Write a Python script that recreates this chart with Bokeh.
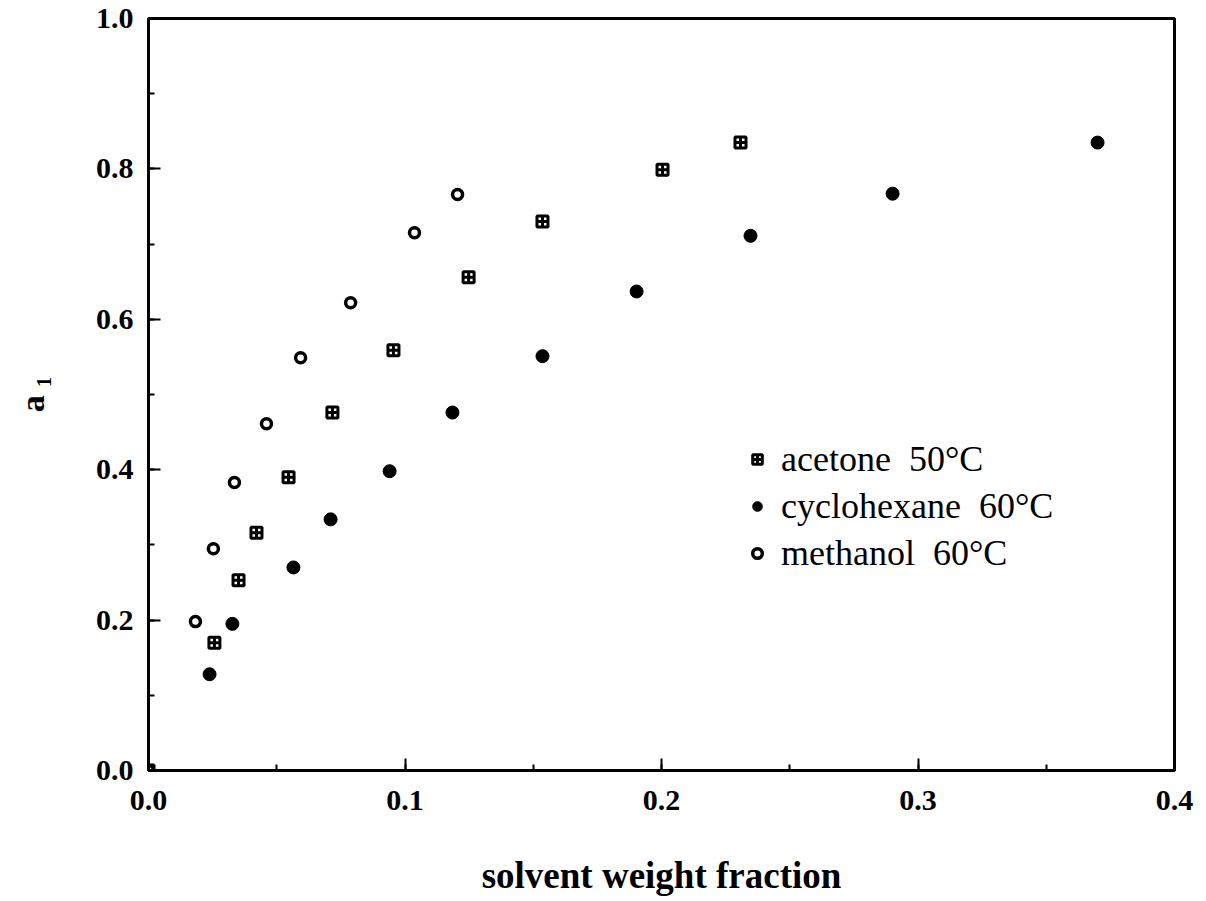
from bokeh.plotting import figure
from bokeh.models import SingleIntervalTicker, PrintfTickFormatter, Range1d
from bokeh.embed import file_html
from bokeh.resources import INLINE

# ---- data ----
acetone_x = [0.0, 0.0257, 0.0351, 0.0421, 0.0546, 0.0717, 0.0955, 0.1248, 0.1536, 0.2004, 0.2308]
acetone_y = [0.0, 0.170, 0.253, 0.316, 0.390, 0.476, 0.559, 0.656, 0.730, 0.799, 0.835]

cyclohexane_x = [0.0238, 0.0327, 0.0565, 0.0710, 0.0940, 0.1185, 0.1536, 0.1903, 0.2347, 0.2901, 0.3700]
cyclohexane_y = [0.128, 0.195, 0.270, 0.334, 0.398, 0.476, 0.551, 0.637, 0.711, 0.767, 0.835]

methanol_x = [0.0, 0.0183, 0.0253, 0.0335, 0.0460, 0.0593, 0.0788, 0.1037, 0.1205]
methanol_y = [0.0, 0.198, 0.295, 0.383, 0.461, 0.549, 0.622, 0.715, 0.766]

labels = ["acetone  50\u00b0C", "cyclohexane  60\u00b0C", "methanol  60\u00b0C"]
x_title = "solvent weight fraction"
y_title = "a \u2081"

SERIF = "Liberation Serif"

p = figure(width=1198, height=901, output_backend="svg", toolbar_location=None,
           x_range=Range1d(0, 0.4), y_range=Range1d(0, 1.0),
           min_border_left=148, min_border_right=24, min_border_top=18, min_border_bottom=131)

p.background_fill_color = "white"
p.border_fill_color = "white"
p.grid.visible = False
p.outline_line_color = "black"
p.outline_line_width = 3

p.scatter(acetone_x, acetone_y, marker="square_cross", size=11, fill_color="white",
          line_color="black", line_width=3, legend_label=labels[0])
p.scatter(cyclohexane_x, cyclohexane_y, marker="circle", size=13, fill_color="black",
          line_color="black", line_width=1, legend_label=labels[1])
p.scatter(methanol_x, methanol_y, marker="circle", size=10, fill_color="white",
          line_color="black", line_width=3.5, legend_label=labels[2])

p.xaxis.ticker = SingleIntervalTicker(interval=0.1, num_minor_ticks=2)
p.yaxis.ticker = SingleIntervalTicker(interval=0.2, num_minor_ticks=2)
p.xaxis.formatter = PrintfTickFormatter(format="%.1f")
p.yaxis.formatter = PrintfTickFormatter(format="%.1f")

for ax in (p.xaxis[0], p.yaxis[0]):
    ax.axis_line_color = "black"
    ax.axis_line_width = 3
    ax.major_tick_in = 12
    ax.major_tick_out = 0
    ax.minor_tick_in = 6
    ax.minor_tick_out = 0
    ax.major_tick_line_width = 2
    ax.minor_tick_line_width = 2
    ax.major_tick_line_color = "black"
    ax.minor_tick_line_color = "black"
    ax.major_label_text_font = SERIF
    ax.major_label_text_font_style = "bold"
    ax.major_label_text_font_size = "30px"
    ax.major_label_text_color = "black"
    ax.axis_label_text_font = SERIF
    ax.axis_label_text_font_style = "bold"
    ax.axis_label_text_color = "black"

p.xaxis.major_label_standoff = 20
p.yaxis.major_label_standoff = 15
p.xaxis.axis_label = x_title
p.xaxis.axis_label_text_font_size = "37px"
p.xaxis.axis_label_standoff = 42
p.yaxis.axis_label = y_title
p.yaxis.axis_label_text_font_size = "34px"
p.yaxis.axis_label_standoff = 42

lg = p.legend[0]
lg.location = (597, 196)
lg.border_line_color = None
lg.background_fill_alpha = 0
lg.padding = 0
lg.margin = 0
lg.spacing = 5
lg.glyph_width = 24
lg.glyph_height = 24
lg.label_standoff = 12
lg.label_text_font = SERIF
lg.label_text_font_size = "36px"
lg.label_text_color = "black"

open("out.html", "w").write(file_html(p, INLINE))
